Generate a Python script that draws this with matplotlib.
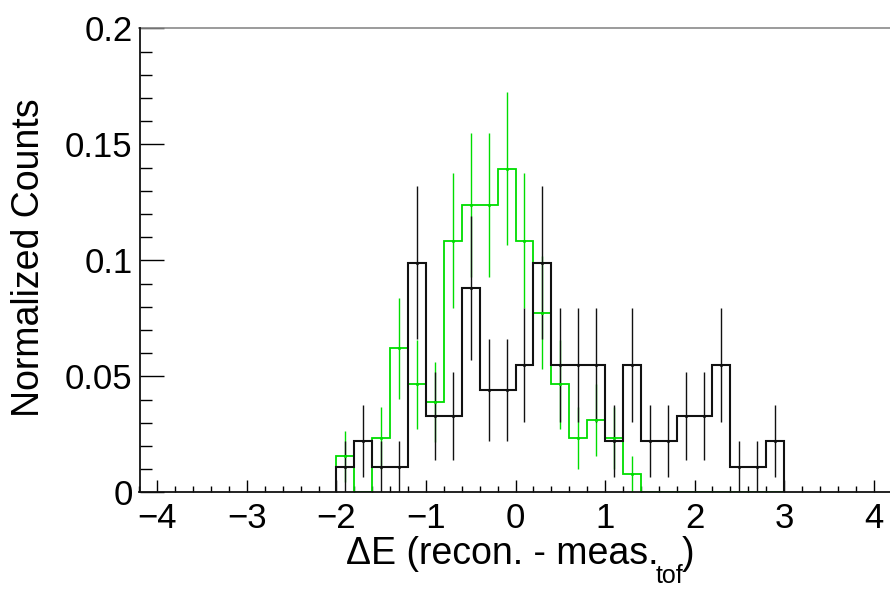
import numpy as np
import matplotlib
matplotlib.use("Agg")
import matplotlib.pyplot as plt
from matplotlib.transforms import IdentityTransform
from matplotlib.ticker import MultipleLocator, FixedLocator

plt.rcParams['font.family'] = ['Liberation Sans', 'DejaVu Sans']

# ---------------- data ----------------
bin_edges = [-2.0, -1.8, -1.6, -1.4, -1.2, -1.0, -0.8, -0.6, -0.4, -0.2, 0.0,
             0.2, 0.4, 0.6, 0.8, 1.0, 1.2, 1.4, 1.6, 1.8, 2.0, 2.2, 2.4, 2.6, 2.8, 3.0]

black_vals = [0.011, 0.022, 0.011, 0.011, 0.099, 0.033, 0.033, 0.088, 0.044, 0.044,
              0.055, 0.099, 0.055, 0.055, 0.055, 0.022, 0.055, 0.022, 0.022, 0.033,
              0.033, 0.055, 0.011, 0.011, 0.022]
black_errs = [0.011, 0.0155, 0.011, 0.011, 0.033, 0.019, 0.019, 0.031, 0.022, 0.022,
              0.0246, 0.033, 0.0246, 0.0246, 0.0246, 0.0155, 0.0246, 0.0155, 0.0155, 0.019,
              0.019, 0.0246, 0.011, 0.011, 0.0155]

green_vals = [0.0155, 0.0, 0.0233, 0.062, 0.0465, 0.0388, 0.1085, 0.124, 0.124, 0.1395,
              0.1085, 0.0775, 0.0465, 0.0233, 0.031, 0.0233, 0.0078, 0.0, 0.0, 0.0,
              0.0, 0.0, 0.0, 0.0, 0.0]
green_errs = [0.011, 0.0, 0.0134, 0.0219, 0.019, 0.0173, 0.029, 0.031, 0.031, 0.0329,
              0.029, 0.0245, 0.019, 0.0134, 0.0155, 0.0134, 0.0078, 0.0, 0.0, 0.0,
              0.0, 0.0, 0.0, 0.0, 0.0]

x_major_ticks = [-4, -3, -2, -1, 0, 1, 2, 3, 4]
y_major_ticks = [0, 0.05, 0.1, 0.15, 0.2]
y_tick_labels = ["0", "0.05", "0.1", "0.15", "0.2"]

xlabel_main = "\u0394E (recon. - meas."
xlabel_sub = "tof"
xlabel_end = ")"
ylabel = "Normalized Counts"

# ---------------- figure ----------------
W, H = 890, 589
fig = plt.figure(figsize=(W / 100, H / 100), dpi=100)
ax_left, ax_right = 139.5, 891.5
ax_top, ax_bottom = 28.3, 492.3
ax = fig.add_axes([ax_left / W, (H - ax_bottom) / H,
                   (ax_right - ax_left) / W, (ax_bottom - ax_top) / H])

GREEN = "#00dd00"
edges = np.array(bin_edges)
centers = 0.5 * (edges[:-1] + edges[1:])


def draw_hist(vals, errs, color, lw):
    ax.stairs(vals, edges, baseline=0, color=color, lw=lw, zorder=3)
    for c, v, e in zip(centers, vals, errs):
        if v > 0:
            ax.plot([c, c], [v - e, v + e], color=color, lw=1.0, zorder=3,
                    solid_capstyle='butt')
            ax.plot([c], [v], marker='.', ms=2.5, color=color, zorder=4)


draw_hist(green_vals, green_errs, GREEN, 1.3)
draw_hist(black_vals, black_errs, "#111111", 1.5)

ax.set_xlim(-4.2, 4.2)
ax.set_ylim(0, 0.2)

TICK_FS = 25
ax.xaxis.set_major_locator(FixedLocator(x_major_ticks))
ax.xaxis.set_minor_locator(MultipleLocator(0.2))
ax.yaxis.set_major_locator(FixedLocator(y_major_ticks))
ax.yaxis.set_minor_locator(MultipleLocator(0.01))
ax.set_yticklabels(y_tick_labels)

ax.tick_params(axis='x', which='major', direction='in', length=8.6, width=1.0,
               labelsize=TICK_FS, pad=7, top=False)
ax.tick_params(axis='x', which='minor', direction='in', length=4.3, width=1.0, top=False)
ax.tick_params(axis='y', which='major', direction='in', length=17, width=1.0,
               labelsize=TICK_FS, pad=5, right=False)
ax.tick_params(axis='y', which='minor', direction='in', length=8.6, width=1.0, right=False)

for s in ['left', 'bottom']:
    ax.spines[s].set_linewidth(1.3)
    ax.spines[s].set_color('#111111')
    ax.spines[s].set_zorder(5)
ax.spines['top'].set_color('#8a8a8a')
ax.spines['top'].set_linewidth(1.2)
ax.spines['right'].set_color('#8a8a8a')

# y label
LABEL_FS = 27
fig.text(29, H - 258, ylabel, fontsize=LABEL_FS, rotation=90, ha='center', va='center',
         transform=IdentityTransform())

# x label with a low subscript
fig.canvas.draw()
r = fig.canvas.get_renderer()
fs_sub = 18
baseline = H - 564
sub_drop = 19
t1 = fig.text(0, baseline, xlabel_main, fontsize=LABEL_FS, ha='left', va='baseline',
              transform=IdentityTransform())
t2 = fig.text(0, baseline - sub_drop, xlabel_sub, fontsize=fs_sub, ha='left', va='baseline',
              transform=IdentityTransform())
t3 = fig.text(0, baseline, xlabel_end, fontsize=LABEL_FS, ha='left', va='baseline',
              transform=IdentityTransform())
w1 = t1.get_window_extent(r).width
w2 = t2.get_window_extent(r).width
w3 = t3.get_window_extent(r).width
total = w1 + w2 + w3 - 4
x0 = 520 - total / 2
t1.set_x(x0)
t2.set_x(x0 + w1 - 2)
t3.set_x(x0 + w1 + w2 - 4)

fig.savefig("out.png", dpi=100)
